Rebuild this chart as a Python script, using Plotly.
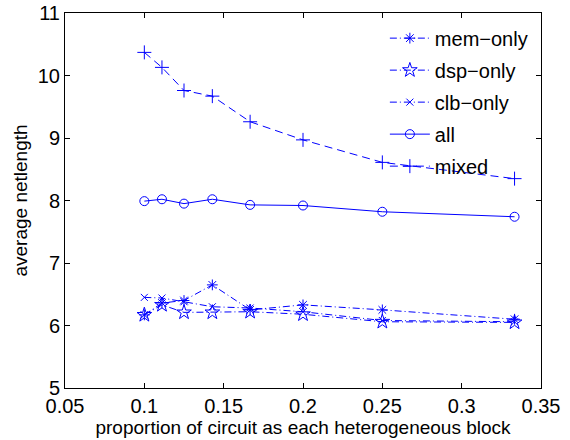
import plotly.graph_objects as go

x = [1/10, 1/9, 1/8, 1/7, 1/6, 1/5, 1/4, 1/3]
mem_only = [6.17, 6.36, 6.40, 6.65, 6.25, 6.33, 6.25, 6.10]
dsp_only = [6.17, 6.33, 6.21, 6.21, 6.22, 6.18, 6.06, 6.05]
clb_only = [6.45, 6.44, 6.38, 6.30, 6.28, 6.22, 6.08, 6.06]
all_ = [7.99, 8.02, 7.95, 8.02, 7.93, 7.92, 7.82, 7.74]
mixed = [10.37, 10.13, 9.76, 9.67, 9.26, 8.97, 8.61, 8.35]

blue = "rgb(0,0,255)"
FONT = "Liberation Sans"
dashdot = "7px,3px,1px,3px"
series = [
    ("mem\u2212only", mem_only, dashdot, "asterisk-open", 9),
    ("dsp\u2212only", dsp_only, dashdot, "star-open", 11),
    ("clb\u2212only", clb_only, dashdot, "x-thin-open", 7),
    ("all", all_, "solid", "circle-open", 9),
    ("mixed", mixed, "8px,5px", "cross-thin-open", 10),
]

fig = go.Figure()
for i, (name, y, dash, sym, sz) in enumerate(series):
    fig.add_trace(go.Scatter(
        x=x, y=y, name=name, mode="lines+markers",
        line=dict(color=blue, width=1, dash=dash),
        marker=dict(symbol=sym, size=sz, color=blue, line=dict(color=blue, width=1)),
        legendgroup=f"g{i}",
    ))

axis_common = dict(
    showgrid=False, zeroline=False, showline=True, linecolor="black", linewidth=1,
    mirror="ticks", ticks="inside", ticklen=5, tickcolor="black",
    tickfont=dict(family=FONT, size=20, color="black"),
    ticklabeloverflow="allow", automargin=False,
)
fig.update_xaxes(range=[0.05, 0.35], dtick=0.05, tick0=0.05, tickformat="~g",
                 title=dict(text="proportion of circuit as each heterogeneous block",
                            font=dict(family=FONT, size=19, color="black"),
                            standoff=3),
                 **axis_common)
fig.update_yaxes(range=[5, 11], dtick=1,
                 title=dict(text="average netlength",
                            font=dict(family=FONT, size=19, color="black"),
                            standoff=5),
                 **axis_common)

fig.update_layout(
    width=570, height=440,
    margin=dict(l=65, r=29, t=13, b=52),
    paper_bgcolor="white", plot_bgcolor="white",
    showlegend=True,
    legend=dict(x=0.672, y=0.985, xanchor="left", yanchor="top",
                bgcolor="rgba(0,0,0,0)", borderwidth=0,
                traceorder="grouped", tracegroupgap=3,
                font=dict(family=FONT, size=20, color="black"),
                itemwidth=40),
)

fig.write_html("out.html", config={"displayModeBar": False},
               post_script="document.body.style.margin='0';document.body.style.overflow='hidden';")
